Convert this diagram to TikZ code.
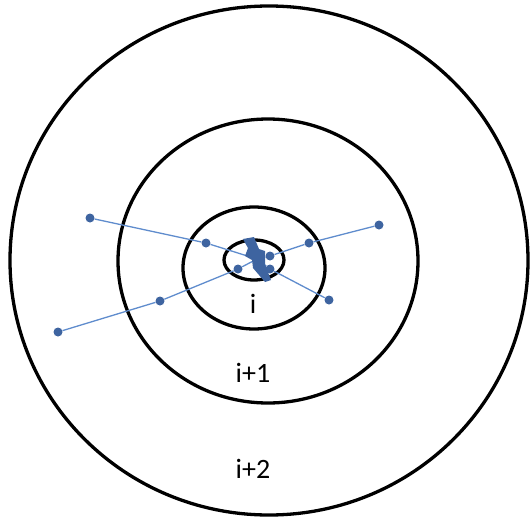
\documentclass[tikz,border=0pt]{standalone}
\usepackage{fontspec}
\setmainfont{Carlito}
\usepackage{xcolor}
\usetikzlibrary{positioning}

\definecolor{dotblue}{RGB}{62,100,160}
\definecolor{lineblue}{RGB}{95,140,205}

\begin{document}
\begin{tikzpicture}[x=1pt, y=-1pt,
    ring/.style={draw=black, line width=3.3pt},
    station/.style={circle, fill=dotblue, inner sep=0pt, minimum size=9pt},
    link/.style={draw=lineblue, line width=1.3pt},
    label/.style={font=\fontsize{28}{30}\selectfont, inner sep=0pt}
]
\useasboundingbox (0,0) rectangle (531,520);

% rings
\draw[ring] (269,260.5) ellipse [x radius=259, y radius=254.5];
\draw[ring] (268,261) ellipse [x radius=150, y radius=142];
\draw[ring] (254,268) ellipse [x radius=71, y radius=61];
\draw[ring] (254,260) ellipse [x radius=30, y radius=20];

\node[label] (lbli) at (253,304) {i};
\node[label] (lbla) at (253,373) {i+1};
\node[label] (lblb) at (253,469) {i+2};

% hub
\coordinate (hub) at (257,259);

% stations
\node[station] (a1) at (90,218) {};
\node[station] (a2) at (206,243) {};
\node[station] (b1) at (58,332) {};
\node[station] (b2) at (160,301) {};
\node[station] (b3) at (238,269) {};
\node[station] (c1) at (379,225) {};
\node[station] (c2) at (309,243) {};
\node[station] (c3) at (270,256) {};
\node[station] (d1) at (329,300) {};
\node[station] (d2) at (270,269) {};

\draw[link] (a1) -- (a2) -- (hub);
\draw[link] (b1) -- (b2) -- (b3) -- (hub);
\draw[link] (c1) -- (c2) -- (c3) -- (hub);
\draw[link] (d1) -- (d2) -- (hub);

% bolt
\fill[dotblue] (243,239) -- (254,237) -- (259,249) -- (265,251) -- (265,264)
    -- (271,280) -- (265,282) -- (253,268) -- (252,260) -- (245,256)
    -- (248,248) -- cycle;
\end{tikzpicture}
\end{document}
